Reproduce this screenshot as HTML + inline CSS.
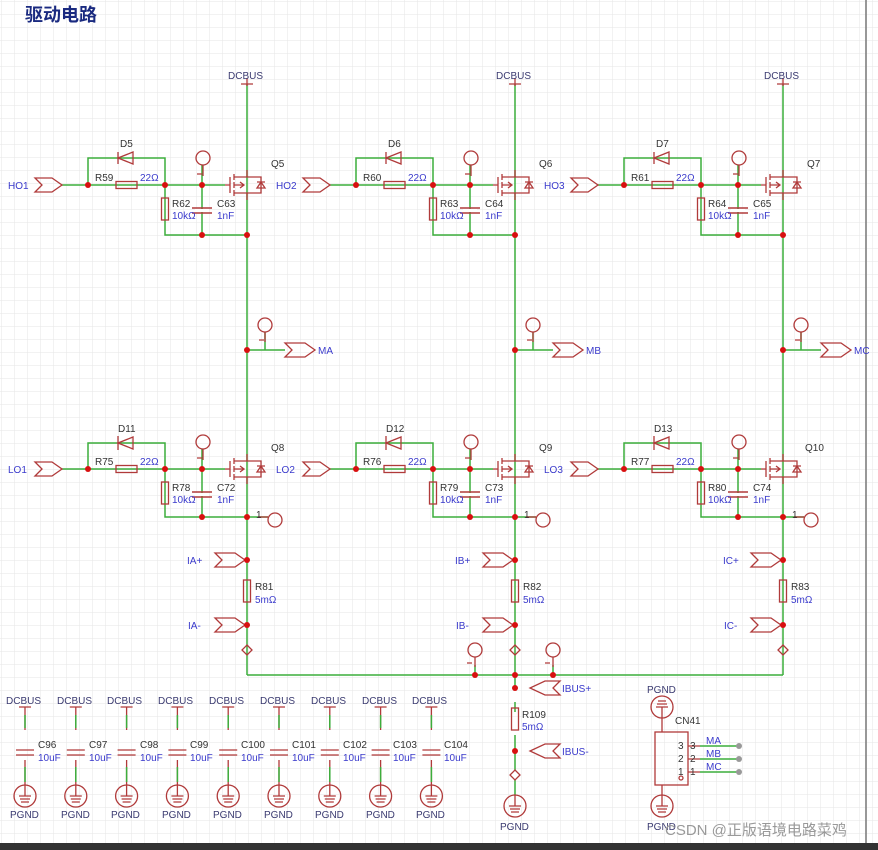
<!DOCTYPE html>
<html><head><meta charset="utf-8"><style>
html,body{margin:0;padding:0;background:#fff}
svg{display:block}
text{font-family:"Liberation Sans","Noto Sans CJK SC",sans-serif;font-size:10px;fill:#3a3acc}
.n{fill:#3a3a70}
.k{fill:#333}
.w{fill:none;stroke:#3cae3c;stroke-width:1.5}
.c{fill:none;stroke:#b03a3a;stroke-width:1.3}
.d{fill:#d81010}
</style></head><body>
<svg width="878" height="850" viewBox="0 0 878 850" xmlns="http://www.w3.org/2000/svg">
<defs>
<pattern id="g" width="13" height="13" patternUnits="userSpaceOnUse" x="2" y="2">
<path d="M13 0V13H0" fill="none" stroke="#e6e6e6" stroke-width="1"/></pattern>
<g id="fet">
<path class="c" d="M-5 0H0M0-8V8M4-11V-5M4-3V3M4 5V11M4-8H17V-15M4 8H17V15M4 0H14M10-3L14 0 10 3M17-8H31V8H17M27-3H35M31-3L27 3H35Z"/>
</g>
<g id="half">
<path class="w" d="M247 84V675M62 185H225M88 185V158H165V185M165 185V235H247M202 165V235M247 350H285M265 332V350"/>
<path class="w" d="M62 469H225M88 469V443H165V469M165 469V517H268M202 449V517M245 560H247M245 625H247"/>
<path class="c" d="M241 84H253M247 78V86"/>
<use href="#fet" x="230" y="185"/><use href="#fet" x="230" y="469"/>
<!-- diodes -->
<path class="c" d="M118 152V164M118 158L133 152V164Z" fill="none"/>
<path class="c" d="M118 436V450M118 443L133 437V449Z"/>
<!-- resistors -->
<rect class="c" x="116" y="181.5" width="21" height="7" fill="#fff"/>
<rect class="c" x="116" y="465.5" width="21" height="7" fill="#fff"/>
<rect class="c" x="161.5" y="198" width="7" height="22" fill="#fff"/>
<rect class="c" x="161.5" y="482" width="7" height="22" fill="#fff"/>
<rect class="c" x="243.5" y="580" width="7" height="22" fill="#fff"/>
<!-- caps -->
<path d="M192 208H212M192 213H212" stroke="#b03a3a" stroke-width="1.6" fill="none"/><rect x="195" y="209" width="14" height="3" fill="#fff"/>
<path d="M192 492H212M192 497H212" stroke="#b03a3a" stroke-width="1.6" fill="none"/><rect x="195" y="493" width="14" height="3" fill="#fff"/>
<!-- ports -->
<polygon class="c" points="35,178 52,178 62,185 52,192 35,192 42,185"/>
<polygon class="c" points="35,462 52,462 62,469 52,476 35,476 42,469"/>
<polygon class="c" points="285,343 305,343 315,350 305,357 285,357 292,350"/>
<polygon class="c" points="215,553 235,553 245,560 235,567 215,567 222,560"/>
<polygon class="c" points="215,618 235,618 245,625 235,632 215,632 222,625"/>
<!-- test points -->
<circle class="c" cx="203" cy="158" r="7"/><path class="c" d="M203 165V176"/>
<circle class="c" cx="203" cy="442" r="7"/><path class="c" d="M203 449V460"/>
<circle class="c" cx="265" cy="325" r="7"/><path class="c" d="M265 332V342"/>
<circle class="c" cx="275" cy="520" r="7"/><path class="c" d="M258 517H268"/>
<path class="c" d="M197 174H202M197 458H202M259 340H264"/>
<path class="c" d="M247 645L252 650 247 655 242 650Z"/>
<!-- dots -->
<g class="d"><circle cx="88" cy="185" r="3"/><circle cx="165" cy="185" r="3"/><circle cx="202" cy="185" r="3"/>
<circle cx="202" cy="235" r="3"/><circle cx="247" cy="235" r="3"/><circle cx="247" cy="350" r="3"/>
<circle cx="88" cy="469" r="3"/><circle cx="165" cy="469" r="3"/><circle cx="202" cy="469" r="3"/>
<circle cx="202" cy="517" r="3"/><circle cx="247" cy="517" r="3"/><circle cx="247" cy="560" r="3"/><circle cx="247" cy="625" r="3"/></g>
</g>
<g id="dc">
<path class="c" d="M19 707H31M25 707V730M25 760V785M16 750H34M16 755H34"/>
<path class="w" d="M25 715V728M25 767V782"/>
<circle class="c" cx="25" cy="796" r="11"/><path class="c" d="M19 796H31M20 799H30M21 802H29M25 785V796"/>
</g>
<g id="gnd"><circle class="c" cx="0" cy="0" r="11"/><path class="c" d="M-6 0H6M-5 3H5M-4 6H4M0-11V0"/></g>
</defs>
<rect width="878" height="850" fill="url(#g)"/>
<path d="M866 0V846" stroke="#777" stroke-width="1.5"/>
<rect x="0" y="843" width="878" height="7" fill="#333"/>
<text x="25" y="21" style="font-size:18px;font-weight:bold;fill:#1a2a80">驱动电路</text>

<use href="#half"/><use href="#half" x="268"/><use href="#half" x="536"/>
<path class="w" d="M247 675H783"/>

<!-- module texts -->
<g>
<text class="n" x="228" y="79">DCBUS</text><text class="n" x="496" y="79">DCBUS</text><text class="n" x="764" y="79">DCBUS</text>
<text x="8" y="189">HO1</text><text x="276" y="189">HO2</text><text x="544" y="189">HO3</text>
<text x="8" y="473">LO1</text><text x="276" y="473">LO2</text><text x="544" y="473">LO3</text>
<text class="k" x="120" y="147">D5</text><text class="k" x="388" y="147">D6</text><text class="k" x="656" y="147">D7</text>
<text class="k" x="118" y="432">D11</text><text class="k" x="386" y="432">D12</text><text class="k" x="654" y="432">D13</text>
<text class="k" x="95" y="181">R59</text><text class="k" x="363" y="181">R60</text><text class="k" x="631" y="181">R61</text>
<text class="k" x="95" y="465">R75</text><text class="k" x="363" y="465">R76</text><text class="k" x="631" y="465">R77</text>
<text x="140" y="181">22Ω</text><text x="408" y="181">22Ω</text><text x="676" y="181">22Ω</text>
<text x="140" y="465">22Ω</text><text x="408" y="465">22Ω</text><text x="676" y="465">22Ω</text>
<text class="k" x="172" y="207">R62</text><text class="k" x="440" y="207">R63</text><text class="k" x="708" y="207">R64</text>
<text class="k" x="172" y="491">R78</text><text class="k" x="440" y="491">R79</text><text class="k" x="708" y="491">R80</text>
<text x="172" y="219">10kΩ</text><text x="440" y="219">10kΩ</text><text x="708" y="219">10kΩ</text>
<text x="172" y="503">10kΩ</text><text x="440" y="503">10kΩ</text><text x="708" y="503">10kΩ</text>
<text class="k" x="217" y="207">C63</text><text class="k" x="485" y="207">C64</text><text class="k" x="753" y="207">C65</text>
<text class="k" x="217" y="491">C72</text><text class="k" x="485" y="491">C73</text><text class="k" x="753" y="491">C74</text>
<text x="217" y="219">1nF</text><text x="485" y="219">1nF</text><text x="753" y="219">1nF</text>
<text x="217" y="503">1nF</text><text x="485" y="503">1nF</text><text x="753" y="503">1nF</text>
<text class="k" x="271" y="167">Q5</text><text class="k" x="539" y="167">Q6</text><text class="k" x="807" y="167">Q7</text>
<text class="k" x="271" y="451">Q8</text><text class="k" x="539" y="451">Q9</text><text class="k" x="805" y="451">Q10</text>
<text x="318" y="354">MA</text><text x="586" y="354">MB</text><text x="854" y="354">MC</text>
<text class="k" x="256" y="518">1</text><text class="k" x="524" y="518">1</text><text class="k" x="792" y="518">1</text>
<text x="187" y="564">IA+</text><text x="455" y="564">IB+</text><text x="723" y="564">IC+</text>
<text x="188" y="629">IA-</text><text x="456" y="629">IB-</text><text x="724" y="629">IC-</text>
<text class="k" x="255" y="590">R81</text><text class="k" x="523" y="590">R82</text><text class="k" x="791" y="590">R83</text>
<text x="255" y="603">5mΩ</text><text x="523" y="603">5mΩ</text><text x="791" y="603">5mΩ</text>
</g>

<!-- center IBUS -->
<path class="w" d="M475 665V675M553 665V675M515 675V690M515 702V712M515 735V770M515 780V795"/>
<circle class="c" cx="475" cy="650" r="7"/><path class="c" d="M475 657V667"/>
<circle class="c" cx="553" cy="650" r="7"/><path class="c" d="M553 657V667"/>
<path class="c" d="M467 663H472M545 663H550"/>
<rect class="c" x="511.5" y="708" width="7" height="22" fill="#fff"/>
<polygon class="c" points="560,681 545,681 530,688 545,695 560,695 553,688"/>
<polygon class="c" points="560,744 545,744 530,751 545,758 560,758 553,751"/>
<path class="c" d="M515 770L520 775 515 780 510 775Z"/>
<use href="#gnd" x="515" y="806"/>
<g class="d"><circle cx="475" cy="675" r="3"/><circle cx="515" cy="675" r="3"/><circle cx="553" cy="675" r="3"/><circle cx="515" cy="688" r="3"/><circle cx="515" cy="751" r="3"/></g>
<text x="562" y="692">IBUS+</text><text x="562" y="755">IBUS-</text>
<text class="k" x="522" y="718">R109</text><text x="522" y="730">5mΩ</text>
<text class="n" x="500" y="830">PGND</text>

<!-- decoupling caps -->
<use href="#dc"/><use href="#dc" x="50.8"/><use href="#dc" x="101.6"/><use href="#dc" x="152.4"/><use href="#dc" x="203.2"/><use href="#dc" x="254"/><use href="#dc" x="304.8"/><use href="#dc" x="355.6"/><use href="#dc" x="406.4"/>
<g class="n">
<text class="n" x="6" y="704">DCBUS</text><text class="n" x="57" y="704">DCBUS</text><text class="n" x="107" y="704">DCBUS</text><text class="n" x="158" y="704">DCBUS</text><text class="n" x="209" y="704">DCBUS</text><text class="n" x="260" y="704">DCBUS</text><text class="n" x="311" y="704">DCBUS</text><text class="n" x="362" y="704">DCBUS</text><text class="n" x="412" y="704">DCBUS</text>
<text class="n" x="10" y="818">PGND</text><text class="n" x="61" y="818">PGND</text><text class="n" x="111" y="818">PGND</text><text class="n" x="162" y="818">PGND</text><text class="n" x="213" y="818">PGND</text><text class="n" x="264" y="818">PGND</text><text class="n" x="315" y="818">PGND</text><text class="n" x="366" y="818">PGND</text><text class="n" x="416" y="818">PGND</text>
</g>
<text class="k" x="38" y="748">C96</text><text class="k" x="89" y="748">C97</text><text class="k" x="140" y="748">C98</text><text class="k" x="190" y="748">C99</text><text class="k" x="241" y="748">C100</text><text class="k" x="292" y="748">C101</text><text class="k" x="343" y="748">C102</text><text class="k" x="393" y="748">C103</text><text class="k" x="444" y="748">C104</text>
<text x="38" y="761">10uF</text><text x="89" y="761">10uF</text><text x="140" y="761">10uF</text><text x="190" y="761">10uF</text><text x="241" y="761">10uF</text><text x="292" y="761">10uF</text><text x="343" y="761">10uF</text><text x="393" y="761">10uF</text><text x="444" y="761">10uF</text>

<!-- CN41 -->
<use href="#gnd" x="662" y="707" transform="rotate(180 662 707)"/>
<path class="c" d="M662 718V732M662 785V795M688 746H700M688 759H700M688 772H700"/>
<rect class="c" x="655" y="732" width="33" height="53" fill="#fff"/>
<use href="#gnd" x="662" y="806"/>
<path class="w" d="M700 746H738M700 759H738M700 772H738"/>
<g fill="#999"><circle cx="739" cy="746" r="3"/><circle cx="739" cy="759" r="3"/><circle cx="739" cy="772" r="3"/></g>
<circle class="c" cx="681" cy="778" r="2"/>
<text class="n" x="647" y="693">PGND</text><text class="n" x="647" y="830">PGND</text>
<text class="k" x="675" y="724">CN41</text>
<text class="k" x="678" y="749">3</text><text class="k" x="678" y="762">2</text><text class="k" x="678" y="775">1</text>
<text class="k" x="690" y="749">3</text><text class="k" x="690" y="762">2</text><text class="k" x="690" y="775">1</text>
<text x="706" y="744">MA</text><text x="706" y="757">MB</text><text x="706" y="770">MC</text>
<text x="665" y="835" style="font-size:15px;fill:#999">CSDN @正版语境电路菜鸡</text>
</svg>
</body></html>
